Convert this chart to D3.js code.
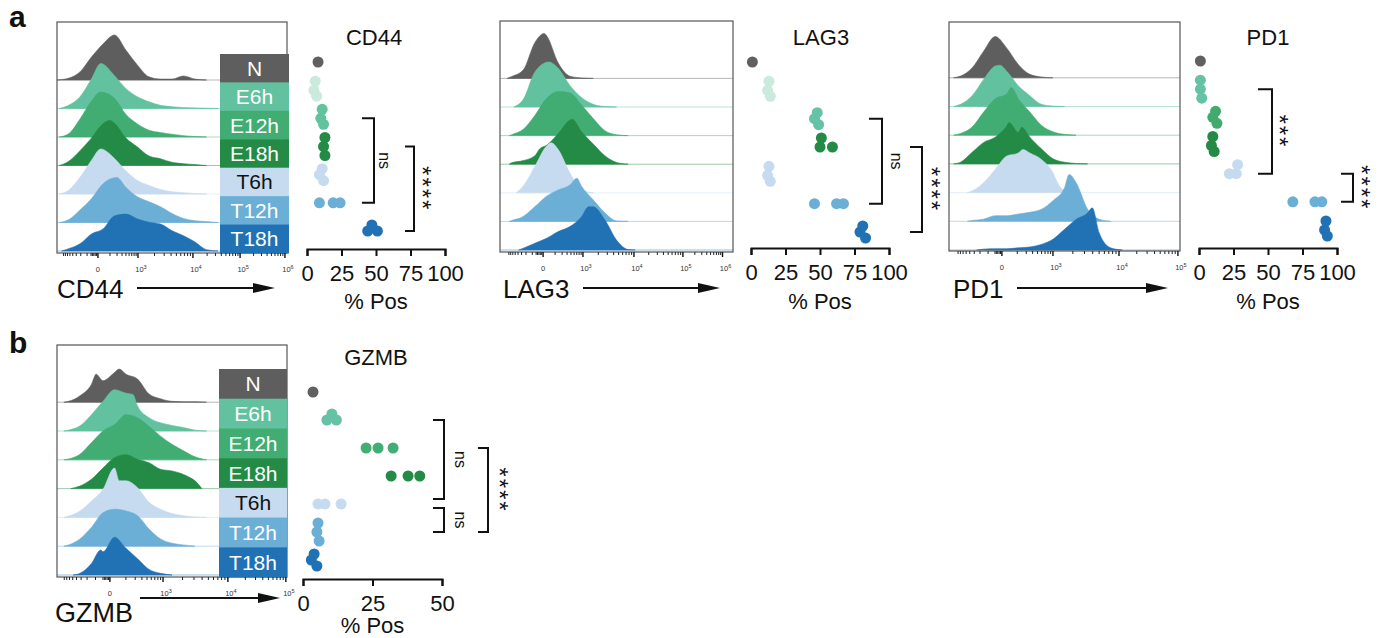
<!DOCTYPE html>
<html><head><meta charset="utf-8">
<script src="https://cdn.jsdelivr.net/npm/d3@7"></script>
<style>
body{margin:0;background:#fff}
svg{display:block}
text{font-family:"Liberation Sans",Arial,sans-serif;fill:#111}
</style>
</head><body>
<svg id="c" width="1381" height="638"></svg>
<script>
// ---------------- DATA ----------------
const groups = ["N","E6h","E12h","E18h","T6h","T12h","T18h"];
const histColors = ["#5e5e5e","#62c29f","#41ad72","#238b45","#c6dbef","#6baed6","#2171b5"];
const legendTextColors = ["#fff","#fff","#fff","#fff","#111","#fff","#fff"];

const dotColorsCD44 = ["#606060","#c9eadc","#62c29d","#238b45","#c6dbef","#6baed6","#2171b5"];
const dotColorsLAG3 = ["#606060","#c9eadc","#66c2a4","#238b45","#c6dbef","#6baed6","#2171b5"];
const dotColorsPD1  = ["#606060","#66c2a4","#41ab6e","#238b45","#c6dbef","#6baed6","#2171b5"];
const dotColorsGZMB = ["#606060","#66c2a4","#41ae76","#238b45","#c6dbef","#6baed6","#2171b5"];

// % positive, replicate values per group (order = groups)
const cd44Pos = [[8],[5,6,7],[10,11,12],[12,13,13],[9,11,12],[9,19,24],[44,47,51]];
const lag3Pos = [[1],[12,13,14],[46,48,49],[50,51,59],[12,13,14],[46,62,67],[79,81,83]];
const pd1Pos  = [[1],[1,1,2],[10,12,13],[9,10,11],[22,27,28],[68,84,89],[91,92,93]];
const gzmbPos = [[3.6],[8.6,10.4,12],[22.7,27,32.4],[31.7,37.8,42],[5.4,7.9,13.7],[5,5.4,5.8],[3,4,5]];

// significance brackets [from, to, label]
const cd44Sig = [["E12h","T12h","ns"],["E18h","T18h","****"]];
const lag3Sig = [["E12h","T12h","ns"],["E18h","T18h","****"]];
const pd1Sig  = [["E6h","T6h","***"],["T6h","T12h","****"]];
const gzmbSig = [["E6h","T6h","ns"],["T6h","T12h","ns"],["E12h","T12h","****"]];

// flow axis major tick positions (0-100 channel units across plot) and labels
const cd44TickPos = [17.8,35.2,59.1,79.6,99.1];
const cd44TickLab = ["0","10^3","10^4","10^5","10^6"];
const lag3TickPos = [18.5,35.6,57.5,78.5,95.5];
const lag3TickLab = ["0","10^3","10^4","10^5","10^6"];
const pd1TickPos  = [22.9,45.0,73.6,99.1];
const pd1TickLab  = ["0","10^3","10^4","10^5"];
const gzmbTickPos = [23.0,46.1,74.3,99.5];
const gzmbTickLab = ["0","10^3","10^4","10^5"];

// histograms: [channel, % of mode] per group
const cd44Hist = [
 [[0,0],[5,4],[10,18],[15,51],[20,80],[25,100],[30,66],[35,33],[40,7],[45,2],[50,2],[55,9],[60,2],[65,0]],
 [[1,0],[5,7],[10,26],[15,66],[19,100],[25,73],[30,44],[35,26],[40,15],[45,7],[50,4],[55,2],[62,1],[70,0]],
 [[1,0],[5,7],[10,40],[15,80],[19,100],[25,86],[30,50],[35,29],[40,15],[45,10],[50,6],[55,3],[60,1],[65,0]],
 [[1,0],[5,9],[10,33],[15,61],[19,88],[23,100],[25,94],[30,61],[35,41],[40,21],[45,15],[50,7],[55,4],[60,2],[65,0]],
 [[1,0],[5,8],[10,37],[15,75],[19,100],[25,79],[30,51],[35,30],[40,19],[45,10],[50,5],[55,3],[60,1],[65,0]],
 [[1,0],[5,6],[10,28],[15,53],[20,86],[26,100],[30,78],[35,57],[40,46],[45,35],[50,20],[55,9],[60,4],[65,2],[70,0]],
 [[2,0],[5,5],[10,16],[15,38],[20,49],[25,78],[30,82],[35,71],[40,64],[45,60],[50,45],[55,34],[60,20],[65,3],[70,0]]
];
const lag3Hist = [
 [[3,0],[5,4],[10,19],[15,80],[19,100],[20,95],[25,34],[30,5],[35,1],[40,0]],
 [[6,0],[10,17],[15,78],[21,100],[25,86],[30,48],[35,21],[40,6],[45,1],[50,0]],
 [[4,0],[5,2],[10,14],[15,45],[20,83],[25,98],[30,95],[35,68],[40,38],[45,11],[50,2],[55,0]],
 [[4,0],[5,3],[10,8],[15,19],[17,34],[20,42],[25,68],[30,98],[31,100],[35,72],[40,45],[45,19],[50,4],[55,0]],
 [[7,0],[10,15],[15,59],[20,104],[22,111],[25,96],[30,44],[35,7],[40,0]],
 [[4,0],[5,2],[10,11],[15,33],[20,56],[25,70],[30,81],[33,96],[35,78],[40,48],[45,19],[50,1],[55,0]],
 [[8,0],[10,4],[15,15],[20,26],[25,41],[30,52],[35,74],[38,96],[40,96],[45,67],[50,22],[55,1],[58,0]]
];
const pd1Hist = [
 [[2,0],[5,4],[10,23],[15,62],[20,96],[25,69],[30,31],[35,8],[40,2],[45,0]],
 [[2,0],[5,5],[10,25],[15,63],[20,94],[22,96],[25,82],[30,48],[35,25],[40,5],[45,1],[50,0]],
 [[2,0],[5,4],[10,19],[15,54],[20,85],[25,96],[27,111],[30,85],[35,54],[40,23],[45,8],[50,2],[55,0]],
 [[2,0],[5,4],[10,27],[15,50],[20,62],[25,88],[26,96],[30,73],[31.5,85],[35,62],[40,35],[45,12],[50,4],[55,1],[60,0]],
 [[8,0],[10,4],[15,23],[20,54],[25,85],[30,92],[32,100],[35,92],[40,77],[45,46],[47,23],[50,4],[55,0]],
 [[8,0],[10,2],[15,5],[20,13],[25,13],[30,17],[35,21],[40,28],[45,48],[50,78],[52,109],[55,90],[60,28],[65,5],[70,0]],
 [[12,0],[15,2],[20,3],[25,3],[30,5],[35,7],[40,13],[45,25],[50,48],[55,71],[60,86],[62,98],[65,40],[70,5],[75,0]]
];
const gzmbHist = [
 [[3,0],[5,2],[10,15],[15,42],[17,65],[20,50],[25,69],[27,77],[30,65],[35,54],[40,19],[45,8],[50,2],[55,1],[60,1],[65,0]],
 [[3,0],[5,2],[10,12],[15,38],[20,69],[25,96],[30,88],[33,85],[35,58],[40,31],[45,19],[50,13],[55,8],[60,2],[65,0]],
 [[3,0],[5,2],[10,13],[15,40],[20,67],[25,82],[30,105],[35,98],[40,78],[45,55],[50,36],[55,21],[60,7],[65,0]],
 [[6,0],[10,6],[15,22],[20,48],[25,72],[30,79],[35,68],[40,60],[45,45],[50,41],[55,33],[58,25],[60,18],[63,0]],
 [[3,0],[5,3],[10,15],[15,38],[20,65],[25,115],[27,85],[30,85],[35,69],[40,35],[45,19],[50,9],[55,4],[60,1],[65,0]],
 [[3,0],[5,3],[10,17],[15,44],[20,78],[25,86],[30,82],[35,71],[40,40],[45,17],[50,7],[55,3],[60,0]],
 [[7,0],[10,4],[15,27],[19,58],[20,54],[25,88],[30,62],[35,38],[40,13],[45,4],[50,0]]
];

// ---------------- LAYOUT ----------------
const svg = d3.select("#c");

const histLayout = {
  CD44: {x0:57,x1:287,top:22,boxBottom:253,bottom:251,rowH:28.5,peak:45,
         legend:{x0:220,x1:289,top:54}, label:{x:57,y:298,size:26}, arrow:{x1:137,x2:275,y:288}},
  LAG3: {x0:500,x1:733,top:21,boxBottom:252,bottom:250,rowH:28.6,peak:45,
         legend:null, label:{x:503,y:298,size:26}, arrow:{x1:583,x2:720,y:288}},
  PD1:  {x0:949,x1:1180,top:22,boxBottom:251,bottom:250,rowH:28.7,peak:43,
         legend:null, label:{x:953,y:298,size:26}, arrow:{x1:1017,x2:1168,y:288}},
  GZMB: {x0:57,x1:287,top:345,boxBottom:577,bottom:575,rowH:28.8,peak:43,
         legend:{x0:219,x1:287,top:369}, label:{x:55,y:622,size:27}, arrow:{x1:140,x2:280,y:598}}
};
const dotLayout = {
  CD44: {ax0:307,ax1:445,axisY:249,max:100,ticks:[0,25,50,75,100],yTop:62,yBot:231,titleX:374,titleY:45,labY:309,
         br:[{x:374,arm:12,lx:383},{x:414,arm:9,lx:428}]},
  LAG3: {ax0:751,ax1:889,axisY:248,max:100,ticks:[0,25,50,75,100],yTop:62,yBot:232,titleX:821,titleY:45,labY:309,
         br:[{x:882,arm:13,lx:895},{x:922,arm:12,lx:937}]},
  PD1:  {ax0:1199,ax1:1337,axisY:248,max:100,ticks:[0,25,50,75,100],yTop:61,yBot:230,titleX:1268,titleY:45,labY:309,
         br:[{x:1272,arm:14,lx:1285},{x:1353,arm:12,lx:1367}]},
  GZMB: {ax0:303,ax1:442,axisY:579,max:50,ticks:[0,25,50],yTop:392,yBot:560,titleX:376,titleY:365,labY:633,
         br:[{x:444,arm:11,lx:459,d2:-5},{x:444,arm:11,lx:459,d1:4},{x:488,arm:10,lx:505}]}
};

// ---------------- DRAW HISTOGRAM PANEL ----------------
function drawHist(L, hist, tickPos, tickLab, name){
  const g = svg.append("g");
  const x = d3.scaleLinear().domain([0,100]).range([L.x0, L.x1]);
  const h = d3.scaleLinear().domain([0,100]).range([0, L.peak]);
  const base = i => L.bottom - (groups.length-1-i)*L.rowH;

  groups.forEach((grp,i)=>{
    g.append("line").attr("x1",L.x0).attr("x2",L.x1).attr("y1",base(i)).attr("y2",base(i))
      .attr("stroke",histColors[i]).attr("stroke-opacity",0.45).attr("stroke-width",1);
    const area = d3.area().x(d=>x(d[0])).y0(base(i)).y1(d=>base(i)-h(d[1])).curve(d3.curveMonotoneX);
    g.append("path").datum(hist[i]).attr("d",area).attr("fill",histColors[i]).attr("stroke",histColors[i]).attr("stroke-width",0.6);
  });

  g.append("rect").attr("x",L.x0).attr("y",L.top).attr("width",L.x1-L.x0).attr("height",L.boxBottom-L.top)
    .attr("fill","none").attr("stroke","#555").attr("stroke-width",1.2);

  // legend
  if (L.legend){
    const lh = (L.boxBottom - L.legend.top)/groups.length;
    groups.forEach((grp,i)=>{
      const y0 = L.legend.top + i*lh;
      g.append("rect").attr("x",L.legend.x0).attr("y",y0).attr("width",L.legend.x1-L.legend.x0).attr("height",lh+0.5)
        .attr("fill",histColors[i]);
      g.append("text").attr("x",(L.legend.x0+L.legend.x1)/2).attr("y",y0+lh/2).attr("dy","0.36em")
        .attr("text-anchor","middle").style("font-size","21px").style("fill",legendTextColors[i]).text(grp);
    });
  }

  // axis ticks
  const yb = L.boxBottom;
  const minor = [];
  for (let j=0;j<tickPos.length-1;j++){
    const a=tickPos[j], b=tickPos[j+1];
    for (let k=2;k<=9;k++) minor.push(a+(b-a)*Math.log10(k));
  }
  const d0 = tickPos[1]-tickPos[0];
  for (let k=2;k<=9;k++){ const p = tickPos[0]-d0*Math.log10(k)*0.9; if (p>0) minor.push(p); }
  for (let k=1;k<=5;k++){ minor.push(tickPos[0]-k*0.6); }
  minor.forEach(p=>{
    g.append("line").attr("x1",x(p)).attr("x2",x(p)).attr("y1",yb).attr("y2",yb+3).attr("stroke","#222").attr("stroke-width",1);
  });
  tickPos.forEach((p,j)=>{
    g.append("line").attr("x1",x(p)).attr("x2",x(p)).attr("y1",yb).attr("y2",yb+5).attr("stroke","#111").attr("stroke-width",1.4);
    const lab = tickLab[j];
    const t = g.append("text").attr("x",x(p)+(lab==="0"?0:3)).attr("y",yb+19).attr("text-anchor","middle")
      .style("font-size","7.5px").style("fill","#333");
    if (lab.includes("^")){
      const [b,e] = lab.split("^");
      t.append("tspan").text(b);
      t.append("tspan").attr("dy","-3").style("font-size","5.5px").text(e);
    } else t.text(lab);
  });

  // axis label and arrow
  g.append("text").attr("x",L.label.x).attr("y",L.label.y).style("font-size",L.label.size+"px").text(name);
  const A = L.arrow;
  g.append("line").attr("x1",A.x1).attr("x2",A.x2-18).attr("y1",A.y).attr("y2",A.y).attr("stroke","#111").attr("stroke-width",2);
  g.append("path").attr("d",`M${A.x2-22},${A.y-5}L${A.x2},${A.y}L${A.x2-22},${A.y+5}Z`).attr("fill","#111");
}

// ---------------- DRAW DOT PANEL ----------------
function drawDots(L, vals, colors, sig, name){
  const g = svg.append("g");
  const x = d3.scaleLinear().domain([0,L.max]).range([L.ax0,L.ax1]);
  const y = d3.scalePoint().domain(groups).range([L.yTop,L.yBot]);

  const ax = g.append("g").attr("transform",`translate(0,${L.axisY})`)
    .call(d3.axisBottom(x).tickValues(L.ticks).tickFormat(d3.format("d")).tickSize(7).tickSizeOuter(7).tickPadding(9));
  ax.select(".domain").attr("stroke","#111").attr("stroke-width",2);
  ax.selectAll(".tick line").attr("stroke","#111").attr("stroke-width",2);
  ax.selectAll(".tick text").style("font-size","22px").style("font-family","'Liberation Sans',Arial,sans-serif").attr("fill","#111");

  g.append("text").attr("x",L.titleX).attr("y",L.titleY).attr("text-anchor","middle").style("font-size","22px").text(name);
  g.append("text").attr("x",(L.ax0+L.ax1)/2).attr("y",L.labY).attr("text-anchor","middle").style("font-size","22px").text("% Pos");

  const r = 5.5;
  groups.forEach((grp,i)=>{
    const placed = [];
    vals[i].forEach(v=>{
      const px = x(v);
      let dy = 0;
      for (const k of [0,-1,1,-2,2,-3,3,-4,4]){
        const cand = k*3;
        if (placed.every(p=>Math.hypot(p[0]-px,p[1]-cand)>=6.5)){ dy=cand; break; }
      }
      placed.push([px,dy]);
      g.append("circle").attr("cx",px).attr("cy",y(grp)+dy).attr("r",r).attr("fill",colors[i]);
    });
  });

  sig.forEach((s,j)=>{
    const B = L.br[j];
    const y1 = y(s[0]) + (B.d1||0), y2 = y(s[1]) + (B.d2||0);
    g.append("path").attr("d",`M${B.x-B.arm},${y1}H${B.x}V${y2}H${B.x-B.arm}`)
      .attr("fill","none").attr("stroke","#111").attr("stroke-width",2);
    const isStar = s[2].includes("*");
    const fs = isStar ? 24 : 16;
    g.append("text").attr("transform",`translate(${B.lx},${(y1+y2)/2}) rotate(90)`)
      .attr("text-anchor","middle").attr("y", isStar ? fs*0.58 : fs*0.26)
      .style("font-size",fs+"px").style("letter-spacing", isStar ? "2px" : "0px").text(s[2]);
  });
}

drawHist(histLayout.CD44, cd44Hist, cd44TickPos, cd44TickLab, "CD44");
drawHist(histLayout.LAG3, lag3Hist, lag3TickPos, lag3TickLab, "LAG3");
drawHist(histLayout.PD1,  pd1Hist,  pd1TickPos,  pd1TickLab,  "PD1");
drawHist(histLayout.GZMB, gzmbHist, gzmbTickPos, gzmbTickLab, "GZMB");

drawDots(dotLayout.CD44, cd44Pos, dotColorsCD44, cd44Sig, "CD44");
drawDots(dotLayout.LAG3, lag3Pos, dotColorsLAG3, lag3Sig, "LAG3");
drawDots(dotLayout.PD1,  pd1Pos,  dotColorsPD1,  pd1Sig,  "PD1");
drawDots(dotLayout.GZMB, gzmbPos, dotColorsGZMB, gzmbSig, "GZMB");

svg.append("text").attr("x",9).attr("y",27).style("font-size","30px").style("font-weight","bold").text("a");
svg.append("text").attr("x",9).attr("y",353).style("font-size","30px").style("font-weight","bold").text("b");
</script>
</body></html>
